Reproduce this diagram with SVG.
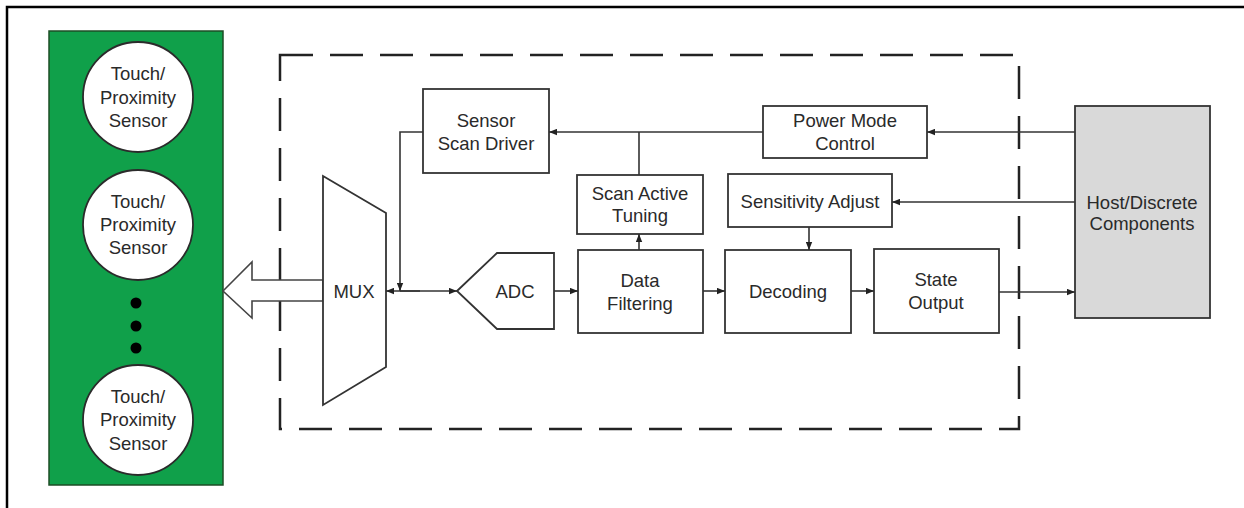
<svg xmlns="http://www.w3.org/2000/svg" width="1244" height="508" viewBox="0 0 1244 508">
<defs>
<style>
text{font-family:"Liberation Sans",Arial,sans-serif;font-size:18.5px;fill:#2a2a2a;text-anchor:middle;dominant-baseline:central}
.box{fill:#fff;stroke:#333;stroke-width:1.8}
.sensor{fill:#fff;stroke:#2b2b2b;stroke-width:1.8}
.wire{fill:none;stroke:#333;stroke-width:1.6}
</style>
<marker id="ah" viewBox="0 0 10 8" refX="10" refY="4" markerWidth="8" markerHeight="7" markerUnits="userSpaceOnUse" orient="auto"><path d="M0,0 L10,4 L0,8 z" fill="#222"/></marker>
</defs>
<rect width="1244" height="508" fill="#fff"/>
<path d="M7,508 V7 H1244" fill="none" stroke="#000" stroke-width="2.5"/>

<g id="sensor-panel">
<rect x="49" y="31" width="174" height="454" fill="#10a04a" stroke="#1d4d26" stroke-width="1.5"/>
<g id="sensor1"><circle class="sensor" cx="138" cy="97" r="55"/><text x="138" y="73">Touch/</text><text x="138" y="97">Proximity</text><text x="138" y="120">Sensor</text></g>
<g id="sensor2"><circle class="sensor" cx="138" cy="225" r="55"/><text x="138" y="201">Touch/</text><text x="138" y="224">Proximity</text><text x="138" y="247">Sensor</text></g>
<circle cx="136" cy="303" r="5.5" fill="#000"/>
<circle cx="136" cy="326" r="5.5" fill="#000"/>
<circle cx="136" cy="348" r="5.5" fill="#000"/>
<g id="sensor3"><circle class="sensor" cx="138" cy="420" r="55"/><text x="138" y="396">Touch/</text><text x="138" y="419">Proximity</text><text x="138" y="443">Sensor</text></g>
</g>

<rect id="chip" x="280" y="55" width="739" height="374" fill="none" stroke="#222" stroke-width="2.5" stroke-dasharray="33 17"/>

<g id="bus-arrow"><polygon points="223,291 252,262 252,280 323,280 323,301 252,301 252,318" fill="#fff" stroke="#444" stroke-width="1.6"/></g>

<g id="mux"><polygon class="box" points="323,176 386,213 386,367 323,405"/><text x="354" y="291">MUX</text></g>

<g id="sensor-scan-driver"><rect class="box" x="423" y="89" width="126" height="84"/><text x="486" y="120">Sensor</text><text x="486" y="143">Scan Driver</text></g>

<g id="power-mode-control"><rect class="box" x="763" y="106" width="164" height="52"/><text x="845" y="120">Power Mode</text><text x="845" y="143">Control</text></g>

<g id="scan-active-tuning"><rect class="box" x="577" y="175" width="126" height="59"/><text x="640" y="193">Scan Active</text><text x="640" y="215">Tuning</text></g>

<g id="sensitivity-adjust"><rect class="box" x="728" y="174" width="164" height="53"/><text x="810" y="201">Sensitivity Adjust</text></g>

<g id="adc"><polygon class="box" points="457,291 497,253 554,253 554,329 497,329"/><text x="515" y="291">ADC</text></g>

<g id="data-filtering"><rect class="box" x="578" y="250" width="125" height="83"/><text x="640" y="280">Data</text><text x="640" y="303">Filtering</text></g>

<g id="decoding"><rect class="box" x="725" y="250" width="126" height="83"/><text x="788" y="291">Decoding</text></g>

<g id="state-output"><rect class="box" x="874" y="249" width="125" height="84"/><text x="936" y="279">State</text><text x="936" y="302">Output</text></g>

<g id="host"><rect x="1075" y="106" width="135" height="212" fill="#d9d9d9" stroke="#333" stroke-width="1.8"/><text x="1142" y="202">Host/Discrete</text><text x="1142" y="223">Components</text></g>

<g id="connectors">
<path class="wire" d="M763,132 H549" marker-end="url(#ah)"/>
<path class="wire" d="M639,132 V175"/>
<path class="wire" d="M423,132 H400 V291" marker-end="url(#ah)"/>
<path class="wire" d="M420,291 H386" marker-end="url(#ah)"/>
<path class="wire" d="M400,291 H457" marker-end="url(#ah)"/>
<path class="wire" d="M554,291 H578" marker-end="url(#ah)"/>
<path class="wire" d="M639,250 V234" marker-end="url(#ah)"/>
<path class="wire" d="M703,291 H725" marker-end="url(#ah)"/>
<path class="wire" d="M851,291 H874" marker-end="url(#ah)"/>
<path class="wire" d="M999,292 H1075" marker-end="url(#ah)"/>
<path class="wire" d="M1075,132 H927" marker-end="url(#ah)"/>
<path class="wire" d="M1075,202 H892" marker-end="url(#ah)"/>
<path class="wire" d="M809,227 V250" marker-end="url(#ah)"/>
</g>
</svg>
